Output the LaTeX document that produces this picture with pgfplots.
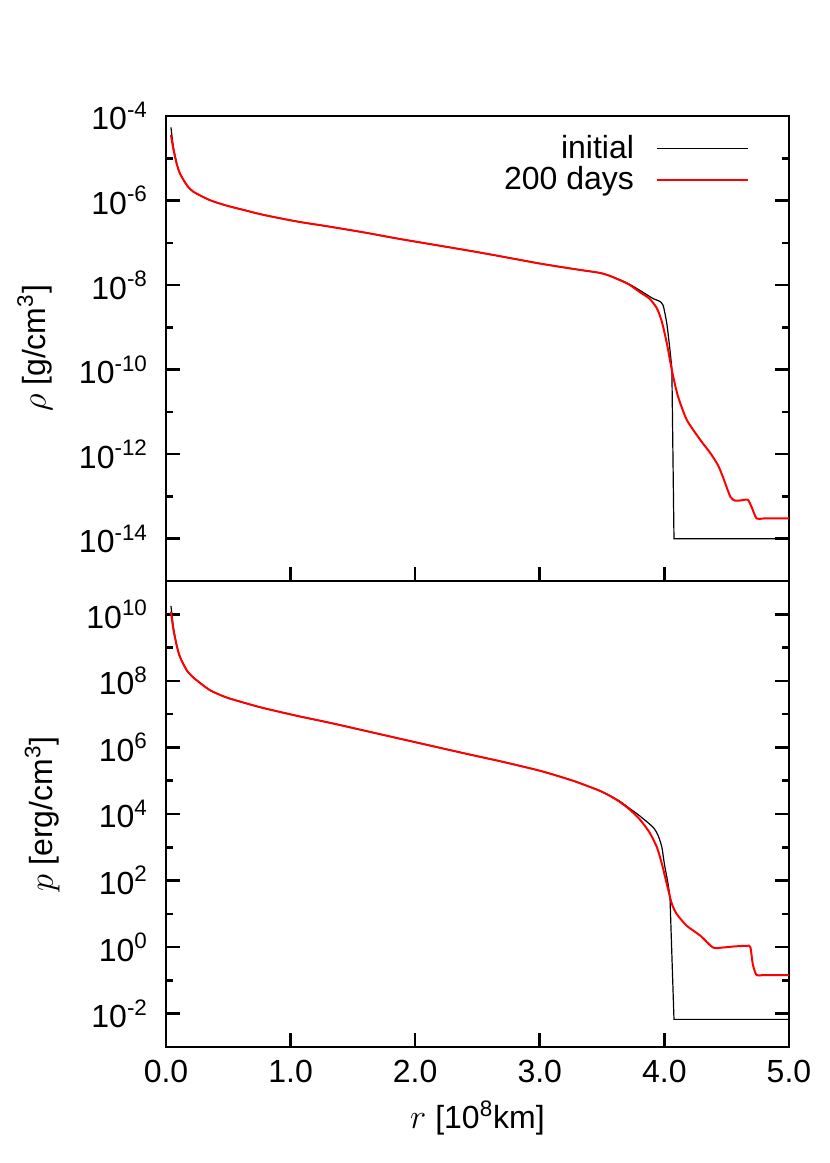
\documentclass[border=0pt]{standalone}
\usepackage{fontspec}
\setmainfont{Liberation Sans}
\usepackage{pgfplots}
\pgfplotsset{compat=1.18}
\begin{document}
\begin{tikzpicture}[x=1pt,y=1pt]
\path[use as bounding box] (-83pt,58pt) rectangle (332pt,-523.5pt);
\pgfplotsset{
  every axis/.append style={
    scale only axis, width=311.5pt, xmin=0, xmax=5, ymode=log,
    font=\fontsize{16}{19}\selectfont,
    tick label style={font=\fontsize{16}{19}\selectfont},
    yticklabel style={xshift=-5.5pt},
    xticklabel style={yshift=-3pt},
    xlabel style={yshift=-2pt},
    ylabel shift=6.5pt,
    axis line style={line width=1.3pt},
    every tick/.style={black, line width=1.3pt},
    major tick length=7pt, minor tick length=3.5pt,
    xtick={0,1,2,3,4,5},
    xtick pos=lower, ytick pos=both, yticklabel pos=left,
  },
}
\begin{axis}[
  at={(0pt,0pt)}, anchor=north west, height=232.5pt,
  ymin=1e-15, ymax=1e-4,
  ytick={1e-14,1e-12,1e-10,1e-8,1e-6,1e-4},
  yticklabels={10\textsuperscript{-14},10\textsuperscript{-12},10\textsuperscript{-10},10\textsuperscript{-8},10\textsuperscript{-6},10\textsuperscript{-4}},
  minor ytick={1e-15,1e-13,1e-11,1e-9,1e-7,1e-5},
  xticklabels={},
  ylabel={$\rho$ [g/cm\textsuperscript{3}]},
  legend plot pos=right,
  legend cell align=right,
  legend image code/.code={\draw[#1] (0pt,0pt) -- (45.5pt,0pt);},
  legend style={draw=none, fill=none, at={(axis description cs:0.946,0.976)}, anchor=north east,
    font=\fontsize{16}{19}\selectfont, row sep=-1.5pt},
]
\addplot[black, line width=0.6pt, smooth, tension=0.4] coordinates {
(0.04,5.37e-5) (0.059,1.86e-5) (0.086,7.59e-6) (0.112,4.37e-6) (0.166,2.34e-6)
(0.219,1.62e-6) (0.353,1.02e-6) (0.487,7.59e-7) (0.62,6.03e-7) (0.754,4.79e-7)
(0.90,3.89e-7) (1.08,3.09e-7) (1.3,2.45e-7) (1.6,1.74e-7) (1.88,1.23e-7)
(2.5,6.03e-8) (3.0,3.24e-8) (3.3,2.34e-8) (3.48,1.95e-8) (3.56,1.66e-8) (3.64,1.35e-8)
(3.72,1.05e-8) (3.80,7.59e-9) (3.91,4.79e-9) (3.96,4.17e-9) (3.99,3.31e-9) (4.02,1.20e-9)
(4.045,2.88e-10) (4.06,1.07e-10)
};
\addlegendentry{initial\hspace*{9pt}}
\addplot[black, line width=0.6pt, forget plot] coordinates {
(4.06,1.07e-10) (4.077,1e-14) (5.0,1e-14)
};
\addplot[red, line width=1pt, smooth, tension=0.4] coordinates {
(0.04,3.55e-5) (0.059,1.66e-5) (0.086,7.41e-6) (0.112,4.37e-6) (0.166,2.34e-6)
(0.219,1.62e-6) (0.353,1.02e-6) (0.487,7.59e-7) (0.62,6.03e-7) (0.754,4.79e-7)
(0.90,3.89e-7) (1.08,3.09e-7) (1.3,2.45e-7) (1.6,1.74e-7) (1.88,1.23e-7)
(2.5,6.03e-8) (3.0,3.24e-8) (3.3,2.34e-8) (3.48,1.95e-8) (3.56,1.66e-8) (3.64,1.32e-8)
(3.72,1.02e-8) (3.80,6.92e-9) (3.88,4.79e-9) (3.94,2.82e-9) (3.98,1.35e-9) (4.02,4.17e-10)
(4.045,1.66e-10) (4.07,7.0e-11) (4.11,2.29e-11) (4.18,6.46e-12) (4.29,2.14e-12)
(4.37,1.05e-12) (4.43,5.50e-13) (4.47,2.88e-13) (4.53,9.77e-14) (4.57,7.94e-14)
(4.62,8.13e-14) (4.67,8.32e-14) (4.70,5.62e-14) (4.74,3.02e-14) (4.8,3.02e-14) (5.0,3.02e-14)
};
\addlegendentry{200 days\hspace*{9pt}}
\end{axis}
\begin{axis}[
  at={(0pt,-232.5pt)}, anchor=north west, height=233pt,
  ymin=1e-3, ymax=1e11,
  ytick={1e-2,1,1e2,1e4,1e6,1e8,1e10},
  yticklabels={10\textsuperscript{-2},10\textsuperscript{0},10\textsuperscript{2},10\textsuperscript{4},10\textsuperscript{6},10\textsuperscript{8},10\textsuperscript{10}},
  minor ytick={1e-3,1e-1,1e1,1e3,1e5,1e7,1e9,1e11},
  xticklabels={0.0,1.0,2.0,3.0,4.0,5.0},
  xlabel={$r$ [10\textsuperscript{8}km]},
  ylabel={$p$ [erg/cm\textsuperscript{3}]},
]
\addplot[black, line width=0.6pt, smooth, tension=0.4] coordinates {
(0.04,1.78e10) (0.059,4.17e9) (0.086,1.17e9) (0.112,5.25e8) (0.166,2.09e8)
(0.219,1.26e8) (0.353,5.25e7) (0.487,3.16e7) (0.62,2.24e7) (0.754,1.62e7)
(0.90,1.20e7) (1.075,8.51e6) (1.34,5.25e6) (1.88,1.82e6) (2.41,6.46e5)
(2.7,3.72e5) (3.0,2.00e5) (3.2,1.20e5) (3.32,8.51e4) (3.48,5.01e4) (3.56,3.63e4)
(3.64,2.45e4) (3.72,1.48e4) (3.80,8.91e3) (3.91,3.98e3) (3.95,2.24e3) (3.98,1.0e3)
(4.00,3.16e2) (4.03,77.6) (4.045,30.9)
};
\addplot[black, line width=0.6pt] coordinates {
(4.045,30.9) (4.077,6.76e-3) (5.0,6.76e-3)
};
\addplot[red, line width=1pt, smooth, tension=0.4] coordinates {
(0.04,1.20e10) (0.059,3.55e9) (0.086,1.15e9) (0.112,5.25e8) (0.166,2.09e8)
(0.219,1.26e8) (0.353,5.25e7) (0.487,3.16e7) (0.62,2.24e7) (0.754,1.62e7)
(0.90,1.20e7) (1.075,8.51e6) (1.34,5.25e6) (1.88,1.82e6) (2.41,6.46e5)
(2.7,3.72e5) (3.0,2.00e5) (3.2,1.20e5) (3.32,8.51e4) (3.48,5.01e4) (3.56,3.55e4)
(3.64,2.34e4) (3.72,1.38e4) (3.80,7.08e3)
(3.88,2.82e3) (3.94,1.0e3) (3.98,3.16e2) (4.02,77.6) (4.06,20.0)
(4.10,9.77) (4.18,4.37) (4.29,2.19) (4.39,0.977) (4.47,0.977)
(4.56,1.05) (4.66,1.10) (4.69,1.0) (4.71,0.302) (4.74,0.145) (4.8,0.145) (5.0,0.145)
};
\end{axis}
\end{tikzpicture}
\end{document}
